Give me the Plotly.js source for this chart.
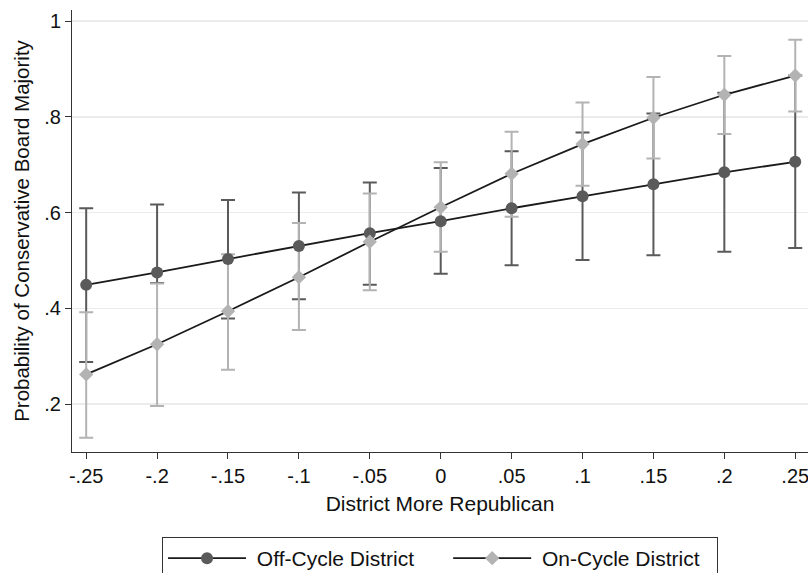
<!DOCTYPE html>
<html>
<head>
<meta charset="utf-8">
<script src="https://cdn.plot.ly/plotly-3.0.1.min.js"></script>
<style>html,body{margin:0;padding:0;background:#fff;}#chart{width:808px;height:573px;}</style>
</head>
<body>
<div id="chart"></div>
<script>
// Data
const xVals = [-0.25, -0.2, -0.15, -0.1, -0.05, 0, 0.05, 0.1, 0.15, 0.2, 0.25];
const xTickText = ["-.25", "-.2", "-.15", "-.1", "-.05", "0", ".05", ".1", ".15", ".2", ".25"];
const yTickVals = [0.2, 0.4, 0.6, 0.8, 1.0];
const yTickText = [".2", ".4", ".6", ".8", "1"];
const seriesNames = ["Off-Cycle District", "On-Cycle District"];

const offCycle = [0.449, 0.475, 0.503, 0.530, 0.557, 0.582, 0.609, 0.634, 0.659, 0.684, 0.706];
const offLower = [0.288, 0.453, 0.379, 0.419, 0.449, 0.472, 0.490, 0.501, 0.511, 0.518, 0.526];
const offUpper = [0.609, 0.617, 0.626, 0.642, 0.663, 0.693, 0.728, 0.767, 0.807, 0.850, 0.886];

const onCycle = [0.262, 0.325, 0.394, 0.465, 0.539, 0.611, 0.681, 0.743, 0.798, 0.846, 0.886];
const onLower = [0.130, 0.196, 0.272, 0.355, 0.438, 0.518, 0.591, 0.656, 0.713, 0.764, 0.811];
const onUpper = [0.392, 0.452, 0.513, 0.578, 0.640, 0.705, 0.769, 0.830, 0.883, 0.927, 0.961];

const plus = (hi, y) => hi.map((h, i) => h - y[i]);
const minus = (lo, y) => lo.map((l, i) => y[i] - l);

const FONT = "Liberation Sans, Arial, Helvetica, sans-serif";
const offColor = "#5a5a5a";
const onColor = "#b3b3b3";
const NB = "\u00a0";

const traces = [
  {
    x: xVals, y: offCycle, type: "scatter", mode: "markers",
    marker: {size: 1, opacity: 0}, showlegend: false, hoverinfo: "skip",
    error_y: {type: "data", symmetric: false, array: plus(offUpper, offCycle), arrayminus: minus(offLower, offCycle),
              color: offColor, thickness: 2, width: 7}
  },
  {
    x: xVals, y: onCycle, type: "scatter", mode: "markers",
    marker: {size: 1, opacity: 0}, showlegend: false, hoverinfo: "skip",
    error_y: {type: "data", symmetric: false, array: plus(onUpper, onCycle), arrayminus: minus(onLower, onCycle),
              color: onColor, thickness: 2, width: 7}
  },
  {
    x: xVals, y: offCycle, type: "scatter", mode: "lines+markers", name: NB + seriesNames[0] + NB.repeat(5),
    line: {color: "#1a1a1a", width: 1.8},
    marker: {symbol: "circle", size: 12, color: offColor}
  },
  {
    x: xVals, y: onCycle, type: "scatter", mode: "lines+markers", name: NB + seriesNames[1] + NB.repeat(2),
    line: {color: "#1a1a1a", width: 1.8},
    marker: {symbol: "diamond", size: 11, color: onColor}
  }
];

const layout = {
  width: 808, height: 573,
  margin: {l: 72, r: 0, t: 10, b: 121},
  paper_bgcolor: "#ffffff", plot_bgcolor: "#ffffff",
  font: {family: FONT, size: 20, color: "#111111"},
  showlegend: true,
  legend: {
    orientation: "h", xref: "container", yref: "container",
    x: 0.5446, xanchor: "center", y: 0.0628, yanchor: "top",
    bordercolor: "#333333", borderwidth: 1, bgcolor: "#ffffff",
    font: {family: FONT, size: 21, color: "#111111"},
    itemwidth: 78, traceorder: "normal"
  },
  xaxis: {
    range: [-0.26, 0.259], tickvals: xVals, ticktext: xTickText,
    showgrid: false, zeroline: false, showline: true, linecolor: "#333333", linewidth: 1,
    ticks: "outside", ticklen: 6, tickcolor: "#333333", tickwidth: 1,
    tickfont: {family: FONT, size: 20, color: "#111111"}, ticklabeloverflow: "allow",
    title: {text: "District More Republican", font: {family: FONT, size: 21, color: "#111111"}, standoff: 10},
    automargin: false, fixedrange: true
  },
  yaxis: {
    range: [0.1, 1.023], tickvals: yTickVals, ticktext: yTickText,
    showgrid: true, gridcolor: "#ebebeb", gridwidth: 1.5, zeroline: false,
    showline: true, linecolor: "#333333", linewidth: 1,
    ticks: "outside", ticklen: 6, tickcolor: "#333333", tickwidth: 1,
    tickfont: {family: FONT, size: 20, color: "#111111"},
    title: {text: "Probability of Conservative Board Majority", font: {family: FONT, size: 20.5, color: "#111111"}, standoff: 9},
    automargin: false, fixedrange: true
  }
};

Plotly.newPlot("chart", traces, layout, {staticPlot: true, displayModeBar: false});
</script>
</body>
</html>
